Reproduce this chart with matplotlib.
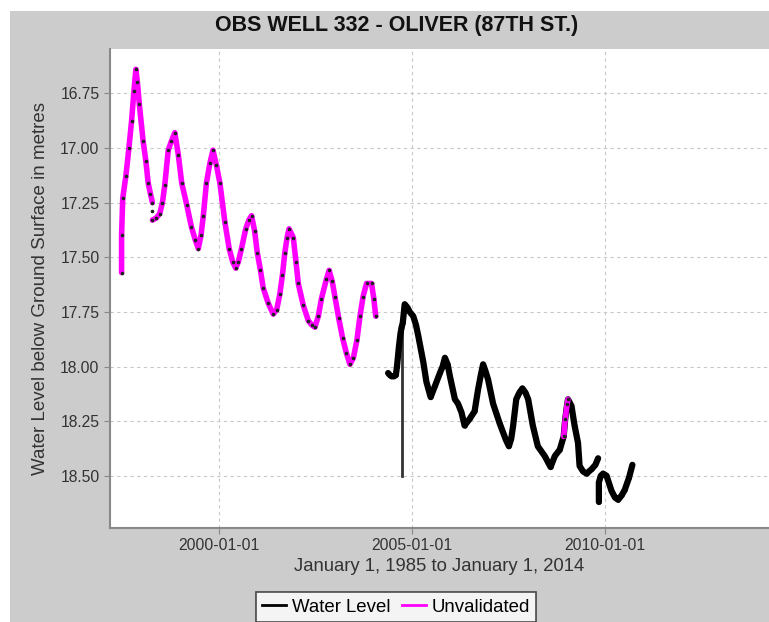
import matplotlib
matplotlib.use("Agg")
import matplotlib.pyplot as plt
import matplotlib.dates as mdates
from matplotlib.lines import Line2D
from matplotlib.patches import Rectangle
import numpy as np
import pandas as pd

plt.rcParams['font.family'] = ['Liberation Sans', 'DejaVu Sans']

# decimal years / metres below ground (nan = gap)
unval_years = [1997.47, 1997.47, 1997.50, 1997.58, 1997.66, 1997.73, 1997.79, 1997.84, 1997.88,
               1997.93, 1998.03, 1998.10, 1998.16, 1998.22, 1998.27, np.nan,
               1998.27, np.nan,
               1998.27, 1998.37, 1998.46, 1998.53, 1998.59, 1998.68, 1998.76, 1998.85, 1998.94,
               1999.03, 1999.16, 1999.28, 1999.38, 1999.46, 1999.53, 1999.59, 1999.67, 1999.76,
               1999.84, 1999.93, 2000.02, 2000.15, 2000.26, 2000.35, 2000.43, 2000.50, 2000.58,
               2000.69, 2000.77, 2000.84, 2000.92, 2000.99, 2001.07, 2001.14, 2001.27, 2001.40,
               2001.49, 2001.57, 2001.64, 2001.70, 2001.76, 2001.81, 2001.92, 2001.99, 2002.05,
               2002.18, 2002.31, 2002.40, 2002.48, 2002.57, 2002.65, 2002.78, 2002.85, 2002.93,
               2003.00, 2003.10, 2003.20, 2003.30, 2003.39, 2003.48, 2003.57, 2003.65, 2003.73,
               2003.82, 2003.95, 2004.01, 2004.06, np.nan,
               2008.93, 2008.97, 2009.02, 2009.04]
unval_level = [17.57, 17.40, 17.23, 17.13, 17.00, 16.875, 16.74, 16.64, 16.70,
               16.80, 16.97, 17.06, 17.16, 17.21, 17.25, np.nan,
               17.29, np.nan,
               17.33, 17.32, 17.30, 17.25, 17.17, 17.01, 16.97, 16.93, 17.03,
               17.16, 17.26, 17.36, 17.42, 17.46, 17.40, 17.31, 17.16, 17.07,
               17.01, 17.08, 17.16, 17.34, 17.46, 17.52, 17.55, 17.52, 17.46,
               17.37, 17.33, 17.31, 17.38, 17.48, 17.56, 17.64, 17.71, 17.76,
               17.74, 17.67, 17.58, 17.48, 17.41, 17.37, 17.41, 17.52, 17.62,
               17.72, 17.79, 17.81, 17.82, 17.77, 17.69, 17.60, 17.56, 17.61,
               17.68, 17.78, 17.87, 17.94, 17.99, 17.96, 17.88, 17.77, 17.68,
               17.62, 17.62, 17.69, 17.77, np.nan,
               18.32, 18.24, 18.17, 18.15]

wl_years = [2004.38, 2004.43, 2004.47, 2004.53, 2004.58, 2004.61, 2004.66, 2004.70, 2004.73,
            2004.76, 2004.81, 2004.88, 2004.94, 2005.03, 2005.10, 2005.16, 2005.29,
            2005.37, 2005.48, 2005.59, 2005.72, 2005.79, 2005.85, 2005.92, 2005.98, 2006.11,
            2006.19, 2006.28, 2006.36, 2006.49, 2006.62, 2006.71, 2006.78, 2006.84, 2006.90,
            2006.97, 2007.10, 2007.27, 2007.43, 2007.51, 2007.57, 2007.62, 2007.70, 2007.78,
            2007.86, 2007.94, 2008.01, 2008.13, 2008.26, 2008.44, 2008.59, 2008.70, 2008.83,
            2008.93, 2008.97, 2009.02, 2009.04, 2009.13, 2009.21, 2009.30, 2009.34, 2009.43,
            2009.52, 2009.65, 2009.75, 2009.82, np.nan,
            2009.84, 2009.84, 2009.89, 2009.95, 2010.04, 2010.17, 2010.26, 2010.34, 2010.43,
            2010.51, 2010.62, 2010.71]
wl_level = [18.03, 18.04, 18.045, 18.045, 18.04, 18.00, 17.91, 17.85, 17.82,
            17.80, 17.715, 17.73, 17.75, 17.77, 17.81, 17.86, 17.98,
            18.07, 18.14, 18.09, 18.03, 18.00, 17.96, 17.99, 18.045, 18.15,
            18.17, 18.21, 18.27, 18.24, 18.205, 18.105, 18.04, 17.99, 18.02,
            18.06, 18.17, 18.26, 18.335, 18.365, 18.33, 18.27, 18.15, 18.12,
            18.10, 18.12, 18.15, 18.27, 18.365, 18.41, 18.46, 18.41, 18.38,
            18.32, 18.24, 18.17, 18.15, 18.18, 18.27, 18.35, 18.455, 18.48,
            18.49, 18.47, 18.45, 18.42, np.nan,
            18.62, 18.53, 18.50, 18.49, 18.50, 18.57, 18.60, 18.61, 18.59,
            18.565, 18.51, 18.45]

# single bad reading in Oct 2004 drawn as a thin drop
spike_years = [2004.73, 2004.73]
spike_level = [17.82, 18.50]


def to_dates(years):
    out = []
    for y in years:
        if np.isnan(y):
            out.append(pd.NaT)
        else:
            yr = int(y)
            out.append(pd.Timestamp(yr, 1, 1) + pd.Timedelta(days=(y - yr) * 365.25))
    return pd.to_datetime(out)


grey = '#cccccc'
fig = plt.figure(figsize=(7.69, 6.22), dpi=100)
fig.patch.set_facecolor('white')
fig.patches.append(Rectangle((10 / 769, 0), 1, 611 / 622, transform=fig.transFigure,
                             facecolor=grey, edgecolor='none', zorder=-10))

ax = fig.add_axes([110 / 769, 1 - 528 / 622, 1 - 110 / 769, (528 - 49) / 622])
ax.set_facecolor('white')

ax.plot(to_dates(spike_years), spike_level, color='#333333', lw=2, zorder=3)
ax.plot(to_dates(wl_years), wl_level, color='black', lw=4.5, marker='o', ms=2,
        solid_capstyle='round', zorder=3)
ax.plot(to_dates(unval_years), unval_level, color='#ff00ff', lw=4,
        solid_capstyle='round', zorder=4)
ax.plot(to_dates(unval_years), unval_level, ls='none', marker='o', ms=1.6,
        color='#222222', zorder=5)

ax.set_xlim(to_dates([1997.17])[0], to_dates([2014.25])[0])
ax.set_ylim(18.739, 16.547)
ax.set_yticks([16.75, 17.0, 17.25, 17.5, 17.75, 18.0, 18.25, 18.5])
ax.yaxis.set_major_formatter(plt.FuncFormatter(lambda v, p: f"{v:.2f}"))
ax.xaxis.set_major_locator(mdates.YearLocator(5))
ax.xaxis.set_major_formatter(mdates.DateFormatter('%Y-%m-%d'))

ax.grid(True, color='#c8c8c8', ls=(0, (3, 3)), lw=0.8)
for s in ['top', 'right']:
    ax.spines[s].set_visible(False)
for s in ['left', 'bottom']:
    ax.spines[s].set_color('#888888')
    ax.spines[s].set_linewidth(1.5)
ax.tick_params(colors='#888888', labelcolor='#333333', labelsize=11.3, length=4)

ax.set_xlabel('January 1, 1985 to January 1, 2014', fontsize=13.3, color='#333333',
              labelpad=3)
ax.set_ylabel('Water Level below Ground Surface in metres', fontsize=13.5, color='#333333',
              labelpad=8)

fig.text(397 / 769, 1 - 26 / 622, 'OBS WELL 332 - OLIVER (87TH ST.)', ha='center',
         va='center', fontsize=15.5, fontweight='bold', color='#111111')

handles = [Line2D([], [], color='black', lw=2), Line2D([], [], color='#ff00ff', lw=2)]
leg = fig.legend(handles, ['Water Level', 'Unvalidated'], loc='upper center',
                 bbox_to_anchor=(396 / 769, 1 - 592 / 622), ncol=2, fontsize=13.4,
                 frameon=True, fancybox=False, handlelength=1.3, handletextpad=0.3,
                 columnspacing=0.6, borderpad=0.35, borderaxespad=0)
leg.get_frame().set_edgecolor('#222222')
leg.get_frame().set_linewidth(1.2)

fig.savefig('out.png', dpi=100, facecolor=fig.get_facecolor())
